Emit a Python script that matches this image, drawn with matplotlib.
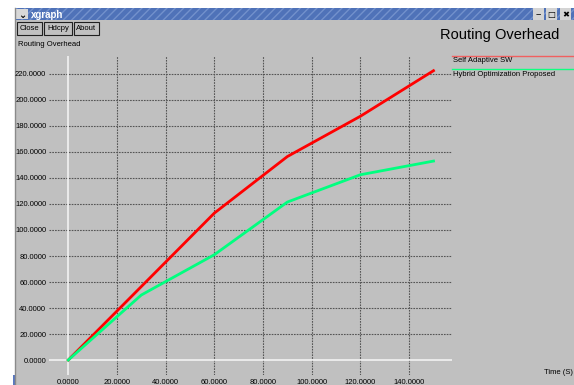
import matplotlib
matplotlib.use("Agg")
import matplotlib.pyplot as plt
from matplotlib.patches import Rectangle

plt.rcParams['font.family'] = ['Liberation Sans', 'DejaVu Sans']

# simulation samples
time_s = [0, 30, 60, 90, 120, 150]
self_adaptive_sw = [0, 56.5, 113, 156.5, 187.5, 222.5]
hybrid_proposed = [0, 50, 81, 121.5, 142.5, 153]

x_ticks = [0, 20, 40, 60, 80, 100, 120, 140]
y_ticks = [0, 20, 40, 60, 80, 100, 120, 140, 160, 180, 200, 220]
series_names = ["Self Adaptive SW", "Hybrid Optimization Proposed"]

W, H = 574, 385
BG = '#c0c0c0'

fig = plt.figure(figsize=(W / 100, H / 100), dpi=100)

# window chrome drawn in pixel coordinates
win = fig.add_axes([0, 0, 1, 1])
win.set_xlim(0, W)
win.set_ylim(H, 0)
win.axis('off')
win.add_patch(Rectangle((0, 0), W, H, facecolor='white', edgecolor='none'))
win.add_patch(Rectangle((15, 20), W - 15, H - 20, facecolor=BG, edgecolor='none'))
win.plot([15, 15], [8, H], color='#8a8a8a', lw=1)
win.add_patch(Rectangle((15, 8), W - 15, 12, facecolor='#4f72b8', edgecolor='#7391cc',
                        hatch='////', lw=0))
win.add_patch(Rectangle((16, 9), 12, 10, facecolor='#d8d8d8', edgecolor='none'))
win.text(22, 14.5, u'\u2304', fontsize=7, ha='center', va='center', weight='bold')
win.text(31, 14.5, 'xgraph', fontsize=7, color='white', weight='bold', va='center')

for x0, glyph in [(533, u'\u2012'), (546, u'\u25a1'), (560, u'\u2716')]:
    win.add_patch(Rectangle((x0, 8), 11, 12, facecolor='#d4d4d4', edgecolor='none'))
    win.text(x0 + 5.5, 14.5, glyph, fontsize=6, ha='center', va='center',
             family=['DejaVu Sans'])

for x0, wdt, label in [(17, 25, 'Close'), (44, 28, 'Hdcpy'), (74, 25, 'About')]:
    win.add_patch(Rectangle((x0, 22), wdt, 13, facecolor=BG, edgecolor='#202020', lw=0.8))
    win.text(x0 + wdt / 2, 29, label, fontsize=5.5, ha='center', va='center')

win.add_patch(Rectangle((13, 375), 3, 10, facecolor='#5a78c0', edgecolor='none'))

win.text(18, 44, 'Routing Overhead', fontsize=5.5, va='center')
win.text(440, 35, 'Routing Overhead', fontsize=10.5, va='center')
win.text(573, 373, 'Time (S)', fontsize=5.5, va='center', ha='right')

# legend entries
win.plot([452, W], [56, 56], color='#f06060', lw=1)
win.text(453, 61, series_names[0], fontsize=5.5, va='center')
win.plot([452, W], [69, 69], color='#10ff80', lw=1)
win.text(453, 74, series_names[1], fontsize=5.5, va='center')

# plot area
px0, px1, py0, py1 = 49, 452, 56, 375
ax = fig.add_axes([px0 / W, (H - py1) / H, (px1 - px0) / W, (py1 - py0) / H])
ax.patch.set_alpha(0)
for s in ax.spines.values():
    s.set_visible(False)
ax.set_xlim(-7.9, 157.6)
ax.set_ylim(-11.5, 233.8)

grid_kw = dict(color='#555555', lw=0.8, ls=(0, (1.5, 1)), zorder=1)
for xv in x_ticks[1:]:
    ax.axvline(xv, **grid_kw)
for yv in y_ticks[1:]:
    ax.axhline(yv, **grid_kw)
ax.axvline(0, color='#f2f2f2', lw=1.2, zorder=1)
ax.axhline(0, color='#f2f2f2', lw=1.2, zorder=1)

ax.plot(time_s, self_adaptive_sw, color='#ff0000', lw=2, zorder=3)
ax.plot(time_s, hybrid_proposed, color='#00ff7f', lw=2, zorder=3)

ax.set_xticks(x_ticks)
ax.set_xticklabels(['%.4f' % v for v in x_ticks])
ax.set_yticks(y_ticks)
ax.set_yticklabels(['%.4f' % v for v in y_ticks])
ax.tick_params(length=0, labelsize=5.5, pad=2)
ax.tick_params(axis='x', pad=3)

fig.savefig('out.png', dpi=100)
